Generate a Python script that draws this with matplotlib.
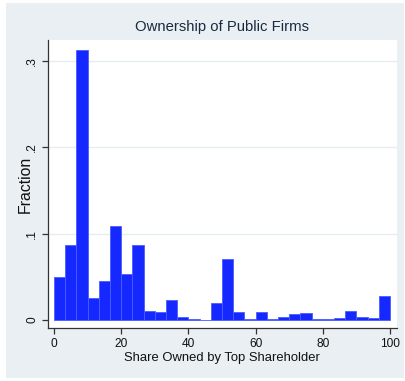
import numpy as np
import matplotlib
matplotlib.use("Agg")
import matplotlib.pyplot as plt
from matplotlib.patches import Rectangle

plt.rcParams['font.family'] = ['Liberation Sans', 'DejaVu Sans']

# Histogram of share owned by top shareholder: 30 bins over 0-100
bin_edges = np.linspace(0, 100, 31)
fractions = [0.050, 0.087, 0.313, 0.025, 0.045, 0.109, 0.053, 0.087, 0.010, 0.0095,
             0.023, 0.004, 0.0012, 0.0005, 0.020, 0.071, 0.009, 0.001, 0.0097, 0.001,
             0.003, 0.007, 0.008, 0.001, 0.0008, 0.0023, 0.0105, 0.0038, 0.0023, 0.0275]
xticks = [0, 20, 40, 60, 80, 100]
yticks = [0, 0.1, 0.2, 0.3]
ytick_labels = ['0', '.1', '.2', '.3']

W, H = 406, 381
fig = plt.figure(figsize=(W / 100, H / 100), dpi=100, facecolor='white')
bg = Rectangle((6 / W, 3 / H), 398 / W, 375 / H, transform=fig.transFigure,
               facecolor='#e9eff2', edgecolor='none', zorder=-10)
fig.patches.append(bg)

ax = fig.add_axes([48 / W, (H - 328) / H, 349 / W, 288 / H])
ax.set_facecolor('white')
ax.bar(bin_edges[:-1], fractions, width=np.diff(bin_edges), align='edge',
       color='#1428ff', edgecolor='#4a5cff', linewidth=0.6, zorder=3)

ax.set_xlim(-1.786, 102.08)
ax.set_ylim(-0.00926, 0.324)
ax.set_xticks(xticks)
ax.set_xticklabels([str(t) for t in xticks], fontsize=8.6, color='#111111')
ax.set_yticks(yticks)
ax.set_yticklabels(ytick_labels, fontsize=8.6, rotation=90, va='center', color='#111111')
for y in yticks[1:]:
    ax.axhline(y, color='#e6edf0', linewidth=1.0, zorder=1)

for s in ['top', 'right']:
    ax.spines[s].set_visible(False)
for s in ['left', 'bottom']:
    ax.spines[s].set_color('#333333')
    ax.spines[s].set_linewidth(0.9)
ax.tick_params(axis='both', direction='out', length=4, width=0.9, color='#333333', pad=3)

fig.text(222 / W, 1 - 358 / H, 'Share Owned by Top Shareholder', ha='center', va='center',
         fontsize=9.4, color='#111111')
fig.text(25 / W, 1 - 184 / H, 'Fraction', ha='center', va='center', rotation=90,
         fontsize=11.4, color='#111111')
fig.text(222 / W, 1 - 27 / H, 'Ownership of Public Firms', ha='center', va='center',
         fontsize=10.7, color='#1a2a40')

fig.savefig('out.png', dpi=100, facecolor='white')
